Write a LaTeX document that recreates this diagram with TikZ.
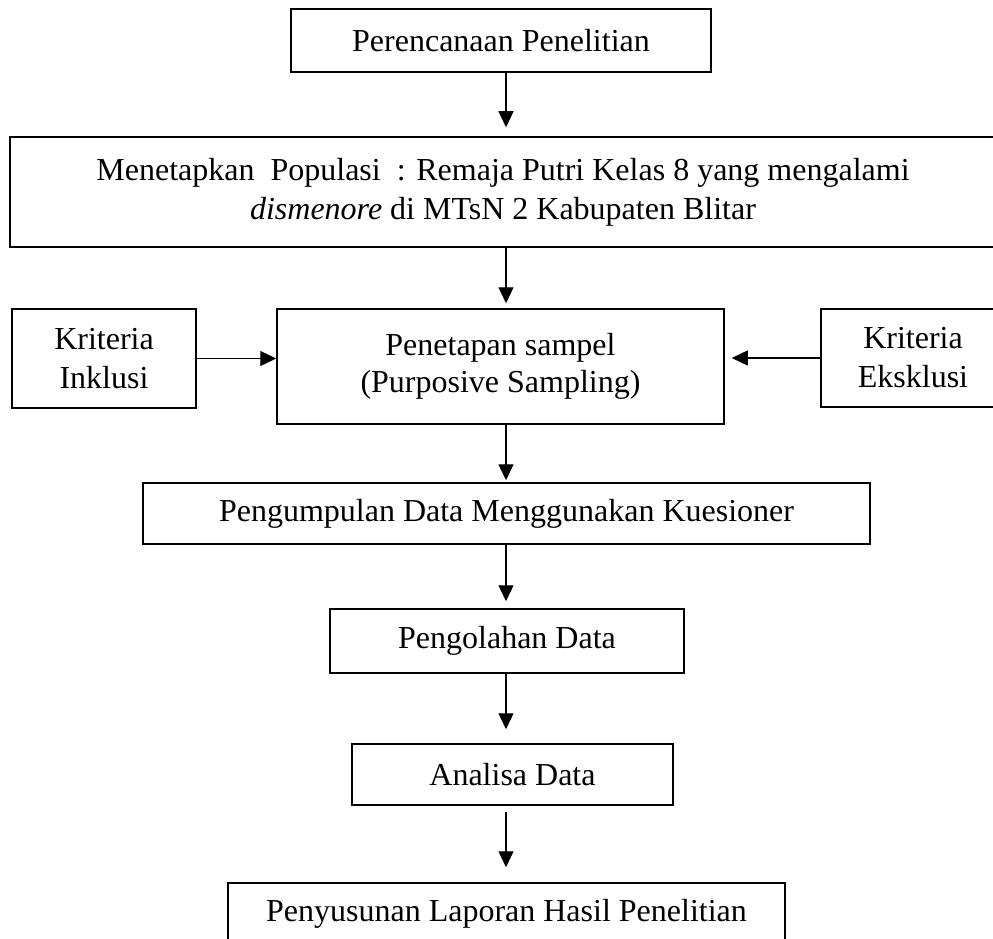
\documentclass[tikz,border=0pt]{standalone}
\usepackage{fontspec}
\setmainfont{Liberation Serif}
\usetikzlibrary{arrows.meta}
\begin{document}
\begin{tikzpicture}[x=1pt,y=-1pt]
\tikzset{
  box/.style={draw=black, line width=1.5pt, inner sep=0pt, align=center,
              font=\fontsize{32}{39}\selectfont},
  arr/.style={line width=1.3pt, -{Triangle[width=15pt,length=16pt]}}
}
\useasboundingbox (0,0) rectangle (993,939);
\clip (0,0) rectangle (993,939);
\fill[white] (0,0) rectangle (993,939);

\node[box, minimum width=990pt, minimum height=110pt] (b2) at (505,192)
  {\hspace*{-4pt}Menetapkan\ \ Populasi\ \ : Remaja Putri Kelas 8 yang mengalami\\ \hspace*{-4pt}\textit{dismenore} di MTsN 2 Kabupaten Blitar};
\node[box, minimum width=420pt, minimum height=63pt] (b1) at (501,40.5) {Perencanaan Penelitian};
\node[box, minimum width=184pt, minimum height=99pt] (b3) at (104,358.5) {Kriteria\\Inklusi};
\node[box, minimum width=447pt, minimum height=115pt, font=\fontsize{32}{37}\selectfont] (b4) at (500.5,366.5)
  {Penetapan sampel\\(Purposive Sampling)};
\node[box, minimum width=184pt, minimum height=98pt] (b5) at (913,358) {Kriteria\\Eksklusi};
\node[box, minimum width=727pt, minimum height=61pt] (b6) at (506.5,513.5) {Pengumpulan Data Menggunakan Kuesioner};
\node[box, minimum width=354pt, minimum height=64pt] (b7) at (507,641) {Pengolahan Data};
\node[box, minimum width=321pt, minimum height=61pt] (b8) at (512.5,774.5) {Analisa Data};
\node[box, minimum width=557pt, minimum height=61pt] (b9) at (506.5,913.5) {Penyusunan Laporan Hasil Penelitian};

\coordinate (ax) at (506,0);
\draw[arr, shorten >=9pt] (b1.south -| ax) -- (b2.north -| ax);
\draw[arr, shorten >=5pt] (b2.south -| ax) -- (b4.north -| ax);
\draw[arr, shorten >=2pt] (b4.south -| ax) -- (b6.north -| ax);
\draw[arr, shorten >=7pt] (b6.south -| ax) -- (b7.north -| ax);
\draw[arr, shorten >=14pt] (b7.south -| ax) -- (b8.north -| ax);
\draw[arr, shorten <=6pt, shorten >=15pt] (b8.south -| ax) -- (b9.north -| ax);
\draw[arr] (b3.east) -- (b3.east -| b4.west);
\draw[arr, shorten >=7pt] (b5.west) -- (b5.west -| b4.east);
\end{tikzpicture}
\end{document}
